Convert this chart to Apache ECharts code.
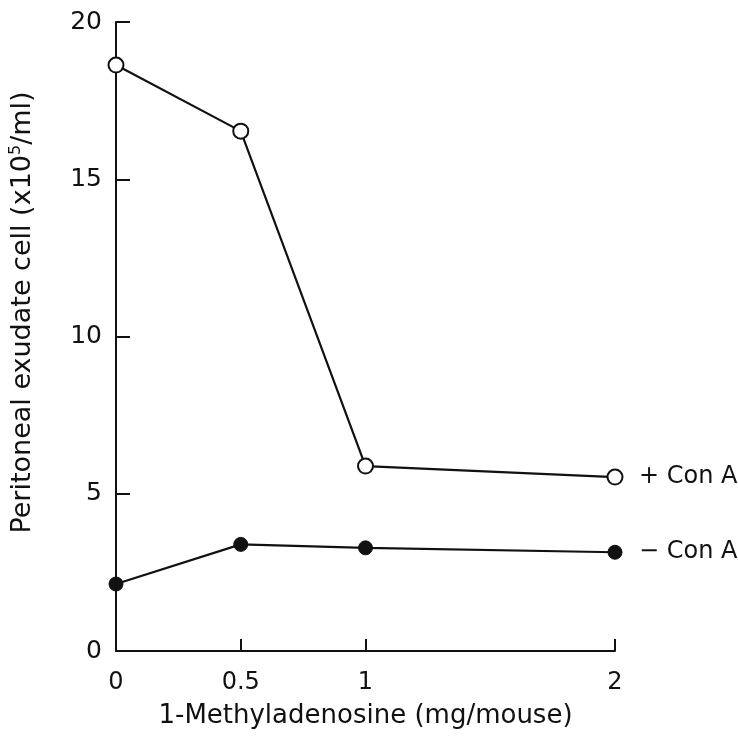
<!DOCTYPE html>
<html><head><meta charset="utf-8">
<script src="https://cdn.jsdelivr.net/npm/echarts@6/dist/echarts.min.js"></script>
<style>html,body{margin:0;padding:0;background:#fff}#c{width:738px;height:738px}</style>
</head><body><div id="c"></div>
<script>
var doses = [0, 0.5, 1, 2];
var withConA = [18.63, 16.53, 5.88, 5.53];
var withoutConA = [2.13, 3.39, 3.28, 3.14];
var xTicks = [0, 0.5, 1, 2];
var yTicks = [0, 5, 10, 15, 20];
var font = 'DejaVu Sans';

function pairs(xs, ys) { return xs.map(function (x, i) { return [x, ys[i]]; }); }

var chart = echarts.init(document.getElementById('c'));
chart.setOption({
  animation: false,
  backgroundColor: '#fff',
  grid: { left: 116, right: 123, top: 22, bottom: 87, containLabel: false, outerBoundsMode: 'none' },
  xAxis: {
    type: 'value', min: 0, max: 2, interval: 0.5,
    name: '1-Methyladenosine (mg/mouse)', nameLocation: 'middle', nameGap: 52,
    nameTextStyle: { fontFamily: font, fontSize: 26, color: '#111' },
    axisLine: { show: true, lineStyle: { color: '#111', width: 2 } },
    axisTick: { show: true, inside: true, length: 12, lineStyle: { color: '#111', width: 2 }, customValues: xTicks },
    axisLabel: { fontFamily: font, fontSize: 24, color: '#111', margin: 20, customValues: xTicks,
      formatter: function (v) { return String(v); } },
    splitLine: { show: false }
  },
  yAxis: {
    type: 'value', min: 0, max: 20, interval: 5,
    name: '{a|Peritoneal exudate cell (x10}{s|5}{a|/ml)}', nameLocation: 'middle', nameGap: 78, nameRotate: 90,
    nameTextStyle: { padding: [0, 0, 0, 48], rich: {
      a: { fontFamily: font, fontSize: 27, color: '#111' },
      s: { fontFamily: font, fontSize: 16, color: '#111', verticalAlign: 'top', padding: [0, 0, 14, 0] }
    } },
    axisLine: { show: true, lineStyle: { color: '#111', width: 2 } },
    axisTick: { show: true, inside: true, length: 14, lineStyle: { color: '#111', width: 2 } },
    axisLabel: { fontFamily: font, fontSize: 25, color: '#111', margin: 14 },
    splitLine: { show: false }
  },
  series: [
    {
      name: '+ Con A', type: 'line', data: pairs(doses, withConA),
      symbol: 'circle', symbolSize: 15,
      lineStyle: { color: '#111', width: 2.2 },
      itemStyle: { color: '#fff', borderColor: '#111', borderWidth: 2 },
      endLabel: { show: true, formatter: '+ Con A', fontFamily: font, fontSize: 24, color: '#111', distance: 24 },
      z: 3
    },
    {
      name: '− Con A', type: 'line', data: pairs(doses, withoutConA),
      symbol: 'circle', symbolSize: 14,
      lineStyle: { color: '#111', width: 2.2 },
      itemStyle: { color: '#111', borderColor: '#111', borderWidth: 1 },
      endLabel: { show: true, formatter: '− Con A', fontFamily: font, fontSize: 24, color: '#111', distance: 24 },
      z: 3
    }
  ]
});
</script></body></html>
